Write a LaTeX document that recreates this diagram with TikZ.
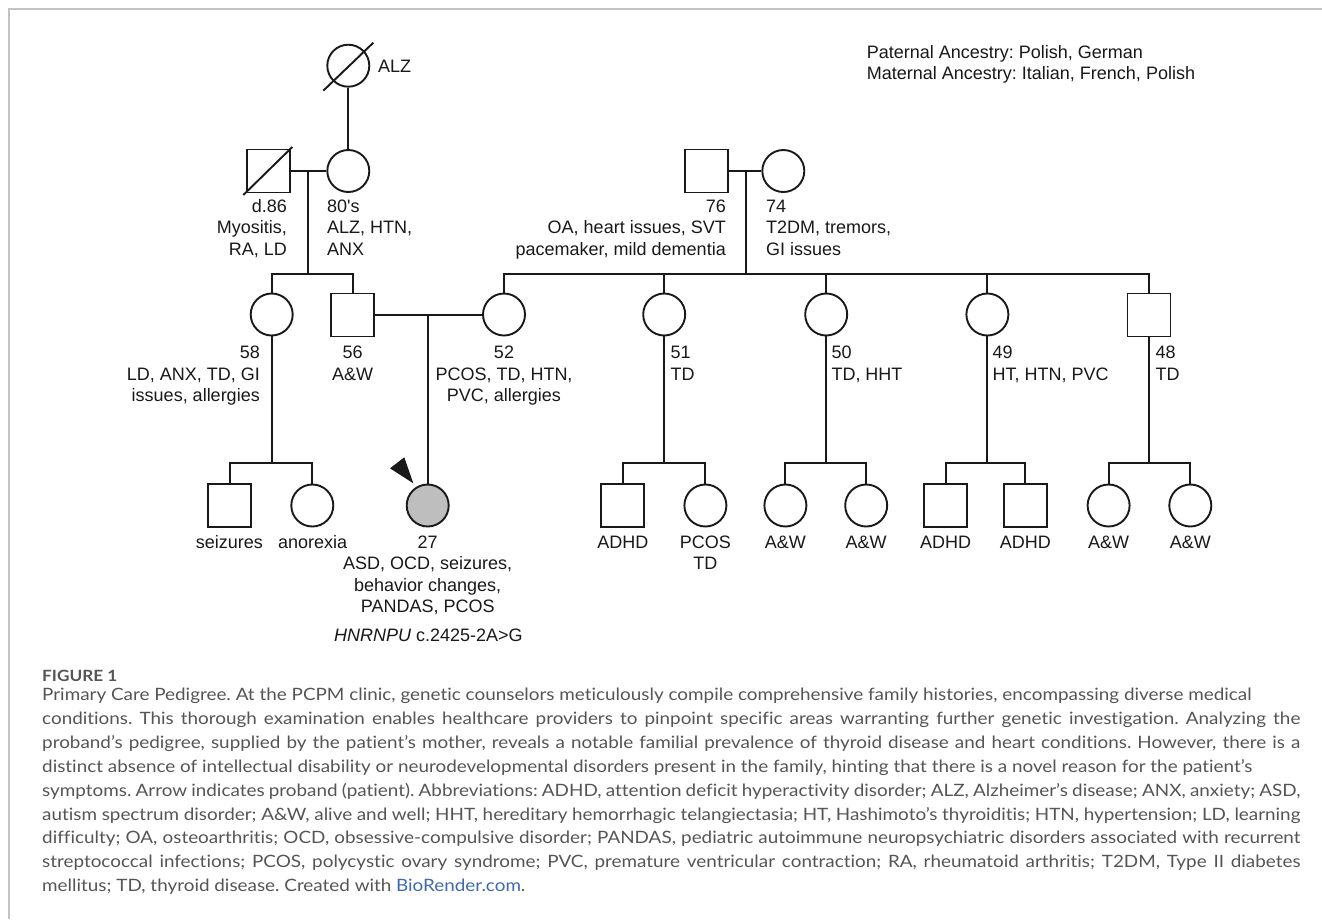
\documentclass[tikz,border=0pt]{standalone}
\usepackage{fontspec}
\newfontfamily\dfont{Liberation Sans}
\newfontfamily\cfont[FakeStretch=1.11,Ligatures={NoCommon}]{Lato}
\definecolor{capgray}{RGB}{85,85,85}
\definecolor{linkblue}{RGB}{62,106,178}
\definecolor{probfill}{RGB}{190,190,190}
\definecolor{framegray}{RGB}{195,195,195}
\newcommand{\jline}[1]{\makebox[1258pt][s]{#1}}
\frenchspacing
\begin{document}
\begin{tikzpicture}[x=1pt,y=-1pt,
  ln/.style={line width=1.9pt, black!90},
  fem/.style={draw=black!90, circle, line width=1.9pt, minimum size=42pt, inner sep=0pt},
  mal/.style={draw=black!90, rectangle, line width=1.9pt, minimum size=43pt, inner sep=0pt},
  lab/.style={font=\dfont\fontsize{18}{21.6}\selectfont, inner sep=0pt, text=black!90},
  captext/.style={font=\cfont\fontsize{17}{23.9}\selectfont, inner sep=0pt, text=capgray},
]
\useasboundingbox (0,0) rectangle (1322,919);
\fill[white] (0,0) rectangle (1322,919);
\draw[framegray, line width=1.5pt] (9,919) -- (9,9) -- (1322,9);

% generation I
\node[fem] (ggm) at (348.3,65.7) {};
\draw[ln] ([shift={(-25,25)}]ggm.center) -- ([shift={(25,-23)}]ggm.center);
\node[lab, anchor=base west] (lggm) at (378,72) {ALZ};

% generation II
\node[mal] (gf) at (268.3,171) {};
\draw[ln] ([shift={(-25,24)}]gf.center) -- ([shift={(24,-24)}]gf.center);
\node[fem] (gm) at (348.3,171) {};
\node[mal] (pgf) at (706.7,171) {};
\node[fem] (pgm) at (783.3,171) {};
\node[lab, anchor=base east, align=right] (lgf) at (287,255.2) {d.86\\Myositis,\\RA, LD};
\node[lab, anchor=base west, align=left] (lgm) at (327,255.2) {80's\\ALZ, HTN,\\ANX};
\node[lab, anchor=base east, align=right] (lpgf) at (726,255.2) {76\\OA, heart issues, SVT\\pacemaker, mild dementia};
\node[lab, anchor=base west, align=left] (lpgm) at (766,255.2) {74\\T2DM, tremors,\\GI issues};
\node[lab, anchor=base west, align=left] (anc) at (866.7,79.6) {Paternal Ancestry: Polish, German\\Maternal Ancestry: Italian, French, Polish};

% generation III
\node[fem] (a58) at (271.7,314.5) {};
\node[mal] (f56) at (352.7,315) {};
\node[fem] (m52) at (504,314.5) {};
\node[fem] (a51) at (664.2,314.5) {};
\node[fem] (a50) at (826.2,314.5) {};
\node[fem] (a49) at (987.4,314.5) {};
\node[mal] (u48) at (1149,315) {};
\node[lab, anchor=base east, align=right] (l58) at (260,401.7) {58\\LD, ANX, TD, GI\\issues, allergies};
\node[lab, anchor=base, align=center] (l56) at (352.7,380.1) {56\\A\&W};
\node[lab, anchor=base, align=center] (l52) at (504,401.7) {52\\PCOS, TD, HTN,\\PVC, allergies};
\node[lab, anchor=base west, align=left] (l51) at (670.5,380.1) {51\\TD};
\node[lab, anchor=base west, align=left] (l50) at (831.3,380.1) {50\\TD, HHT};
\node[lab, anchor=base west, align=left] (l49) at (992.5,380.1) {49\\HT, HTN, PVC};
\node[lab, anchor=base west, align=left] (l48) at (1155.3,380.1) {48\\TD};

% generation IV
\node[mal] (c1) at (229.7,505.5) {};
\node[fem] (c2) at (312.3,505.5) {};
\node[fem, fill=probfill] (pro) at (427.7,505.5) {};
\node[mal] (d1) at (622.9,505.5) {};
\node[fem] (d2) at (705.4,505.5) {};
\node[fem] (e1) at (785.4,505.5) {};
\node[fem] (e2) at (866.2,505.5) {};
\node[mal] (g1) at (945.7,505.5) {};
\node[mal] (g2) at (1025.3,505.5) {};
\node[fem] (h1) at (1108.6,505.5) {};
\node[fem] (h2) at (1190.3,505.5) {};
\fill[black!90] (413.3,483.3) -- (390,468.3) -- (404.3,457.3) -- cycle;

\node[lab, anchor=base] (lc1) at (229.3,548) {seizures};
\node[lab, anchor=base] (lc2) at (312.7,548) {anorexia};
\node[lab, anchor=base, align=center] (lpro) at (427.7,612.8) {27\\ASD, OCD, seizures,\\behavior changes,\\PANDAS, PCOS};
\node[lab, anchor=base] (gene) at (428.3,641.5) {\itshape HNRNPU\upshape\ c.2425-2A>G};
\node[lab, anchor=base] (ld1) at (622.9,548) {ADHD};
\node[lab, anchor=base, align=center] (ld2) at (705.4,569.6) {PCOS\\TD};
\node[lab, anchor=base] (le1) at (785.4,548) {A\&W};
\node[lab, anchor=base] (le2) at (866.2,548) {A\&W};
\node[lab, anchor=base] (lg1) at (945.7,548) {ADHD};
\node[lab, anchor=base] (lg2) at (1025.3,548) {ADHD};
\node[lab, anchor=base] (lh1) at (1108.6,548) {A\&W};
\node[lab, anchor=base] (lh2) at (1190.3,548) {A\&W};

% connectors
\draw[ln] (ggm.south) -- (gm.north);
\draw[ln] (gf.east) -- (gm.west);
\coordinate (gmid) at (307.7,171);
\coordinate (s1) at (307.7,274);
\draw[ln] (gmid) -- (s1);
\draw[ln] (a58.north) |- (s1) -| (f56.north);

\draw[ln] (pgf.east) -- (pgm.west);
\coordinate (pmid) at (745.7,171);
\coordinate (s2) at (745.7,274);
\draw[ln] (pmid) -- (s2);
\draw[ln] (m52.north) |- (s2) -| (u48.north);
\draw[ln] (a51.north) -- (a51.north |- s2);
\draw[ln] (a50.north) -- (a50.north |- s2);
\draw[ln] (a49.north) -- (a49.north |- s2);

\draw[ln] (f56.east) -- (m52.west |- f56.east);
\coordinate (m3) at (427.7,315);
\draw[ln] (m3) -- (pro.north);

\coordinate (k58) at (271.7,463);
\draw[ln] (a58.south) -- (k58);
\draw[ln] (c1.north) |- (k58) -| (c2.north);
\coordinate (k51) at (664.2,463);
\draw[ln] (a51.south) -- (k51);
\draw[ln] (d1.north) |- (k51) -| (d2.north);
\coordinate (k50) at (826.2,463);
\draw[ln] (a50.south) -- (k50);
\draw[ln] (e1.north) |- (k50) -| (e2.north);
\coordinate (k49) at (987.4,463);
\draw[ln] (a49.south) -- (k49);
\draw[ln] (g1.north) |- (k49) -| (g2.north);
\coordinate (k48) at (1149,463);
\draw[ln] (u48.south) -- (k48);
\draw[ln] (h1.north) |- (k48) -| (h2.north);

% caption
\node[font=\cfont\bfseries\fontsize{15.5}{17}\selectfont, text=capgray, inner sep=0pt, anchor=base west] (fig) at (42,681.5) {FIGURE 1};
\node[captext, anchor=base west, align=left] (caption) at (42,891.7) {%
Primary Care Pedigree. At the PCPM clinic, genetic counselors meticulously compile comprehensive family histories, encompassing diverse medical\\
\jline{conditions. This thorough examination enables healthcare providers to pinpoint specific areas warranting further genetic investigation. Analyzing the}\\
\jline{proband’s pedigree, supplied by the patient’s mother, reveals a notable familial prevalence of thyroid disease and heart conditions. However, there is a}\\
distinct absence of intellectual disability or neurodevelopmental disorders present in the family, hinting that there is a novel reason for the patient’s\\
\jline{symptoms. Arrow indicates proband (patient). Abbreviations: ADHD, attention deficit hyperactivity disorder; ALZ, Alzheimer’s disease; ANX, anxiety; ASD,}\\
\jline{autism spectrum disorder; A\&W, alive and well; HHT, hereditary hemorrhagic telangiectasia; HT, Hashimoto’s thyroiditis; HTN, hypertension; LD, learning}\\
\jline{difficulty; OA, osteoarthritis; OCD, obsessive-compulsive disorder; PANDAS, pediatric autoimmune neuropsychiatric disorders associated with recurrent}\\
\jline{streptococcal infections; PCOS, polycystic ovary syndrome; PVC, premature ventricular contraction; RA, rheumatoid arthritis; T2DM, Type II diabetes}\\
mellitus; TD, thyroid disease. Created with \textcolor{linkblue}{BioRender.com}.};
\end{tikzpicture}
\end{document}
